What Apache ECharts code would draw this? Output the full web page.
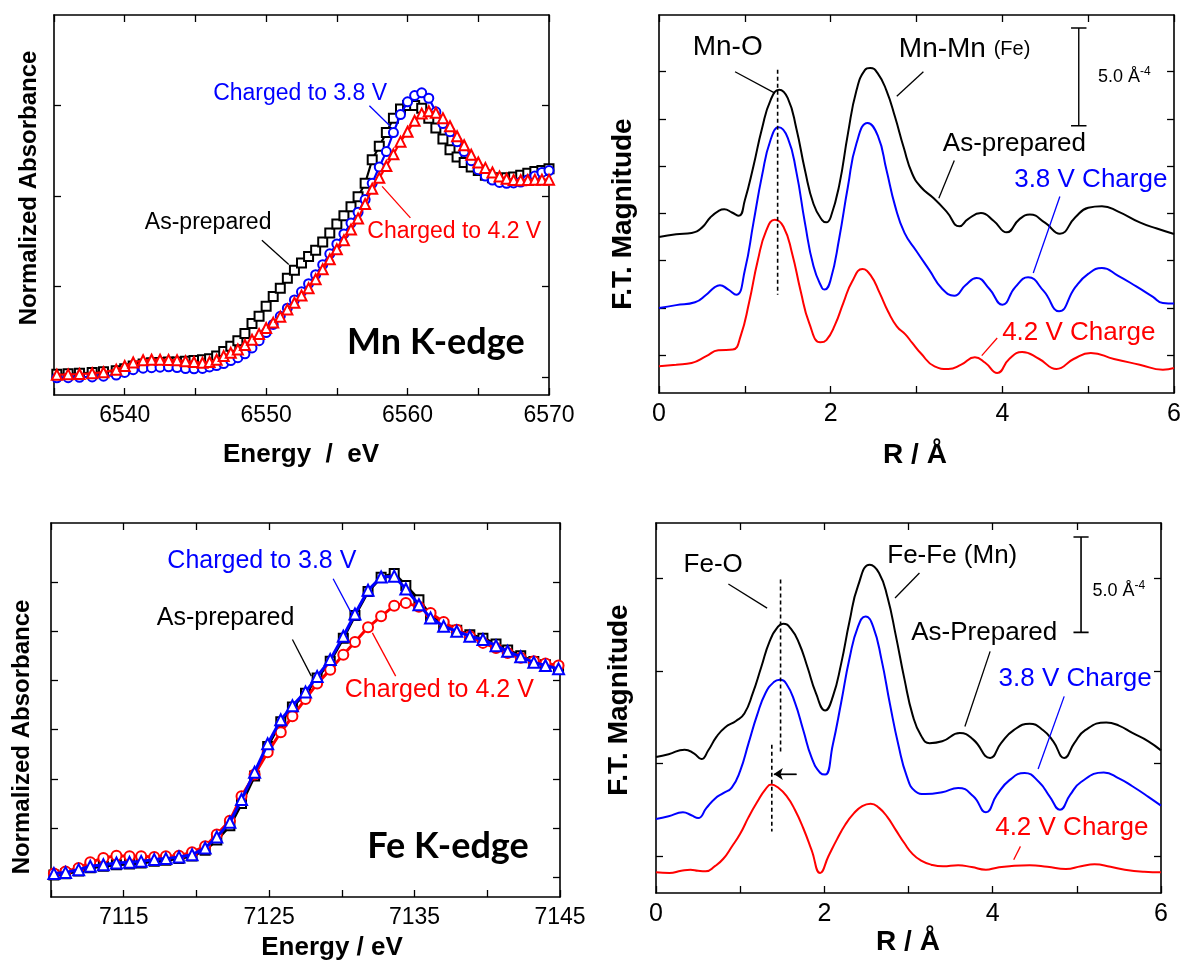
<!DOCTYPE html>
<html><head><meta charset="utf-8">
<script src="https://cdn.jsdelivr.net/npm/echarts@6/dist/echarts.min.js"></script>
<style>html,body{margin:0;padding:0;background:#fff}#c{width:1184px;height:963px}</style>
</head><body><div id="c"></div>
<script>
// ---------------- Mn K-edge XANES ----------------
const mnEnergy = [6535.2,6536.0,6536.8,6537.7,6538.5,6539.4,6540.0,6540.6,6541.3,6541.9,6542.5,6543.1,6543.7,6544.3,6544.9,6545.5,
 6546.0,6546.5,6547.0,6547.5,6548.0,6548.5,6549.0,6549.5,6550.0,6550.5,6551.0,6551.5,6552.0,6552.5,6553.0,6553.5,6554.0,6554.5,
 6555.0,6555.5,6556.0,6556.5,6557.0,6557.5,6558.0,6558.5,6559.0,6559.5,6560.0,6560.5,6561.0,6561.5,6562.0,6562.5,6563.0,6563.5,
 6564.0,6564.5,6565.0,6565.5,6566.0,6566.5,6567.0,6567.5,6568.0,6568.5,6569.0,6569.5,6570.0];
const mnAsPrepared = [0.015,0.018,0.02,0.024,0.028,0.034,0.045,0.06,0.072,0.078,0.08,0.082,0.083,0.086,0.09,0.095,
 0.10,0.115,0.14,0.17,0.20,0.24,0.295,0.335,0.39,0.445,0.49,0.545,0.59,0.63,0.665,0.70,0.745,0.795,
 0.845,0.89,0.94,0.995,1.07,1.20,1.275,1.35,1.43,1.48,1.50,1.50,1.485,1.43,1.375,1.315,1.255,1.215,
 1.185,1.16,1.14,1.115,1.10,1.095,1.10,1.105,1.115,1.125,1.135,1.14,1.15];
const mnCharged38 = [-0.005,-0.004,-0.002,0.0,0.004,0.01,0.025,0.04,0.048,0.051,0.054,0.056,0.052,0.046,0.045,0.047,
 0.055,0.063,0.074,0.09,0.106,0.128,0.16,0.2,0.245,0.29,0.335,0.38,0.425,0.47,0.515,0.565,0.62,0.68,
 0.735,0.79,0.85,0.91,0.98,1.07,1.16,1.245,1.35,1.45,1.52,1.555,1.57,1.54,1.465,1.40,1.355,1.30,
 1.245,1.195,1.145,1.11,1.088,1.075,1.07,1.072,1.077,1.09,1.11,1.13,1.14];
const mnCharged42 = [0.012,0.014,0.016,0.02,0.026,0.04,0.06,0.08,0.092,0.095,0.095,0.094,0.092,0.087,0.082,0.078,
 0.082,0.095,0.115,0.133,0.152,0.176,0.205,0.237,0.27,0.30,0.333,0.373,0.41,0.45,0.49,0.54,0.595,0.65,
 0.705,0.755,0.815,0.875,0.955,1.04,1.10,1.165,1.23,1.30,1.355,1.415,1.455,1.468,1.46,1.43,1.385,1.33,
 1.28,1.228,1.185,1.155,1.13,1.108,1.095,1.088,1.087,1.088,1.09,1.09,1.09];
const mnXLabels = [6540,6550,6560,6570];
const mnXanesYTicks = [0,0.5,1,1.5];

// ---------------- Fe K-edge XANES ----------------
const feEnergy = [7110.2,7111.0,7111.9,7112.7,7113.6,7114.5,7115.4,7116.2,7117.1,7117.9,7118.8,7119.7,7120.6,7121.4,7122.3,
 7123.1,7124.0,7124.9,7125.8,7126.6,7127.5,7128.3,7129.2,7130.1,7130.9,7131.8,7132.7,7133.6,7134.4,7135.3,7136.1,7137.0,
 7137.9,7138.8,7139.7,7140.6,7141.4,7142.3,7143.2,7144.0,7144.9];
const feAsPrepared = [0.012,0.018,0.032,0.048,0.056,0.064,0.068,0.073,0.082,0.087,0.095,0.108,0.138,0.19,0.262,0.375,0.515,
 0.665,0.79,0.865,0.935,1.012,1.098,1.215,1.33,1.452,1.525,1.543,1.482,1.41,1.33,1.282,1.255,1.232,1.215,1.185,1.155,
 1.125,1.097,1.08,1.062];
const feCharged38 = [0.019,0.025,0.039,0.056,0.064,0.073,0.076,0.081,0.09,0.095,0.103,0.115,0.149,0.205,0.28,0.395,0.534,
 0.678,0.80,0.872,0.942,1.02,1.106,1.225,1.338,1.458,1.526,1.53,1.465,1.385,1.318,1.275,1.25,1.225,1.208,1.177,1.148,
 1.12,1.092,1.076,1.059];
const feCharged42 = [0.019,0.03,0.047,0.076,0.098,0.11,0.107,0.107,0.103,0.107,0.11,0.127,0.158,0.217,0.288,0.412,0.522,
 0.635,0.737,0.818,0.906,0.984,1.055,1.131,1.196,1.27,1.326,1.38,1.394,1.374,1.343,1.297,1.258,1.225,1.191,1.165,1.14,
 1.115,1.098,1.086,1.076];
const feXLabels = [7115,7125,7135,7145];
const feXanesYTicks = [0,0.25,0.5,0.75,1,1.25,1.5];

// ---------------- Mn FT-EXAFS ([R, magnitude]) ----------------
const mnFtAsPrepared = [[0,8.25],[0.2,8.4],[0.38,8.47],[0.5,8.75],[0.6,9.3],[0.7,9.65],[0.76,9.72],[0.85,9.55],[0.93,9.38],
 [1.0,10.2],[1.1,12.0],[1.2,14.0],[1.3,15.5],[1.4,16.05],[1.5,15.6],[1.6,14.0],[1.7,11.8],[1.8,10.0],[1.9,9.15],[1.95,9.03],
 [2.0,9.3],[2.1,11.0],[2.2,13.7],[2.3,16.0],[2.4,17.1],[2.46,17.2],[2.55,16.9],[2.65,16.0],[2.75,14.6],[2.85,13.0],[2.95,11.6],
 [3.05,10.9],[3.2,10.3],[3.35,9.6],[3.5,8.82],[3.6,9.2],[3.75,9.52],[3.9,9.1],[4.05,8.5],[4.2,9.2],[4.32,9.44],[4.5,9.0],
 [4.67,8.43],[4.85,9.3],[5.0,9.8],[5.16,9.88],[5.35,9.6],[5.6,9.03],[5.8,8.7],[6.0,8.41]];
const mnFtCharged38 = [[0,4.5],[0.2,4.65],[0.42,4.8],[0.55,5.2],[0.65,5.6],[0.71,5.7],[0.8,5.5],[0.9,5.2],[1.0,6.5],[1.1,9.0],
 [1.2,11.5],[1.3,13.4],[1.395,14.06],[1.5,13.5],[1.6,11.7],[1.7,9.0],[1.8,6.7],[1.9,5.55],[1.93,5.47],[2.0,6.0],[2.1,8.2],
 [2.2,10.9],[2.3,13.2],[2.43,14.29],[2.55,13.6],[2.65,11.8],[2.75,9.9],[2.86,8.47],[3.0,7.5],[3.15,6.5],[3.3,5.5],[3.44,5.15],
 [3.57,5.7],[3.7,6.08],[3.85,5.5],[4.0,4.67],[4.15,5.6],[4.3,6.12],[4.48,5.4],[4.66,4.32],[4.85,5.6],[5.0,6.3],[5.16,6.61],
 [5.35,6.2],[5.56,5.64],[5.75,5.1],[5.87,4.76],[6.0,4.73]];
const mnFtCharged42 = [[0,1.41],[0.2,1.5],[0.38,1.59],[0.55,1.95],[0.69,2.26],[0.86,2.3],[0.95,3.0],[1.05,4.8],[1.15,7.0],
 [1.25,8.6],[1.35,9.17],[1.45,8.8],[1.55,7.4],[1.65,5.4],[1.75,3.7],[1.88,2.68],[1.95,2.8],[2.05,3.6],[2.15,4.8],[2.25,5.9],
 [2.37,6.56],[2.47,6.2],[2.57,5.3],[2.67,4.3],[2.77,3.53],[2.87,3.1],[2.95,2.65],[3.05,2.1],[3.21,1.41],[3.37,1.27],[3.52,1.5],
 [3.68,1.89],[3.8,1.6],[3.94,1.06],[4.08,1.8],[4.23,2.17],[4.43,1.8],[4.63,1.27],[4.83,1.8],[5.03,2.12],[5.3,1.8],[5.6,1.5],
 [5.87,1.23],[6.0,1.32]];

// ---------------- Fe FT-EXAFS ([R, magnitude]) ----------------
const feFtAsPrepared = [[0,7.35],[0.15,7.5],[0.34,7.75],[0.45,7.55],[0.54,7.24],[0.62,7.7],[0.72,8.45],[0.82,8.95],[0.95,9.3],
 [1.05,9.7],[1.15,10.8],[1.25,12.2],[1.35,13.6],[1.45,14.4],[1.51,14.56],[1.6,14.3],[1.7,13.5],[1.8,12.2],[1.9,10.8],[2.01,9.87],
 [2.1,10.6],[2.2,12.4],[2.3,14.7],[2.4,16.6],[2.54,17.75],[2.65,17.3],[2.75,16.0],[2.85,13.9],[2.95,11.6],[3.05,9.6],[3.15,8.5],
 [3.25,8.1],[3.4,8.2],[3.61,8.65],[3.77,8.29],[3.97,7.3],[4.1,8.1],[4.25,8.8],[4.44,9.15],[4.6,8.8],[4.72,8.2],[4.85,7.3],
 [4.97,8.1],[5.1,8.8],[5.35,9.22],[5.5,9.05],[5.66,8.65],[5.85,8.2],[6.0,7.71]];
const feFtCharged38 = [[0,4.0],[0.15,4.15],[0.32,4.36],[0.42,4.2],[0.5,4.05],[0.6,4.6],[0.7,5.1],[0.8,5.4],[0.9,5.7],[1.0,6.6],
 [1.1,8.1],[1.2,9.6],[1.3,10.8],[1.4,11.4],[1.47,11.53],[1.55,11.3],[1.65,10.3],[1.75,8.8],[1.85,7.3],[1.95,6.5],[2.01,6.4],
 [2.1,8.0],[2.2,10.3],[2.3,12.7],[2.4,14.4],[2.49,14.95],[2.58,14.4],[2.68,12.6],[2.78,10.2],[2.88,8.0],[2.98,6.3],[3.08,5.5],
 [3.2,5.35],[3.4,5.45],[3.59,5.68],[3.77,5.23],[3.92,4.36],[4.05,5.3],[4.2,6.1],[4.38,6.49],[4.55,6.0],[4.68,5.2],[4.8,4.5],
 [4.92,5.3],[5.05,6.0],[5.32,6.52],[5.5,6.2],[5.66,5.77],[5.85,5.2],[6.0,4.72]];
const feFtCharged42 = [[0,1.12],[0.16,1.08],[0.3,1.2],[0.41,1.26],[0.5,1.2],[0.59,1.17],[0.7,1.45],[0.8,1.85],[0.9,2.5],[1.0,3.2],
 [1.1,4.1],[1.2,4.9],[1.3,5.6],[1.37,5.86],[1.45,5.7],[1.55,5.25],[1.65,4.5],[1.75,3.5],[1.85,2.3],[1.95,1.08],[2.05,2.0],
 [2.15,2.9],[2.25,3.7],[2.35,4.3],[2.45,4.7],[2.55,4.83],[2.65,4.6],[2.75,4.1],[2.85,3.4],[2.95,2.7],[3.05,2.1],[3.15,1.75],
 [3.27,1.53],[3.41,1.44],[3.59,1.5],[3.75,1.4],[3.92,1.26],[4.05,1.37],[4.2,1.45],[4.44,1.5],[4.65,1.42],[4.87,1.3],[5.05,1.45],
 [5.21,1.55],[5.4,1.42],[5.57,1.26],[5.8,1.15],[6.0,1.12]];
const rLabels = [0,2,4,6];
const mnFtYTicks = [2,4.5,7,9.5,12,14.5,17];
const feFtYTicks = [2,7,12,17];

// ---------------- styling ----------------
const FONT = '"Liberation Sans", Arial, sans-serif';
const BLACK = '#000000', BLUE = '#0000ff', RED = '#ff0000';

const grids = [
  {left:54, top:15, width:495, height:380},
  {left:659, top:15, width:516, height:378},
  {left:51, top:523, width:509, height:374},
  {left:656, top:523, width:505, height:370}
];

function xAxes(g, min, max, interval, labels, fs) {
  const common = {gridIndex:g, type:'value', min:min, max:max, interval:interval, splitLine:{show:false},
    axisLine:{show:true, onZero:false, lineStyle:{color:BLACK, width:1.6}},
    axisTick:{show:true, inside:true, length:7, lineStyle:{color:BLACK, width:1.3}}};
  return [
    Object.assign({}, common, {position:'bottom', axisLabel:{show:true, color:BLACK, fontFamily:FONT, fontSize:fs, margin:9,
      showMinLabel:true, showMaxLabel:true, formatter: v => labels.indexOf(v) >= 0 ? String(v) : ''}}),
    Object.assign({}, common, {position:'top', axisLabel:{show:false}})
  ];
}
function yAxes(g, min, max, ticks) {
  const common = {gridIndex:g, type:'value', min:min, max:max, splitLine:{show:false},
    axisLine:{show:true, onZero:false, lineStyle:{color:BLACK, width:1.6}},
    axisTick:{show:true, inside:true, length:7, customValues:ticks, lineStyle:{color:BLACK, width:1.3}},
    axisLabel:{show:false}};
  return [Object.assign({}, common, {position:'left'}), Object.assign({}, common, {position:'right'})];
}

function xanes(g, xs, ys, color, symbol, size, width, z) {
  return {type:'line', xAxisIndex:2*g, yAxisIndex:2*g, data: xs.map((x,i) => [x, ys[i]]),
    symbol:symbol, symbolSize:size, showSymbol:true, showAllSymbol:true,
    lineStyle:{color:color, width:width}, itemStyle:{color:color, borderColor:color, borderWidth:1.4},
    z:z, silent:true, animation:false};
}
function ft(g, pairs, color) {
  return {type:'line', xAxisIndex:2*g, yAxisIndex:2*g, data:pairs, symbol:'none', smooth:0.5,
    lineStyle:{color:color, width:2}, z:3, silent:true, animation:false};
}
function seg(g, pts, color, width, dashed) {
  return {type:'line', xAxisIndex:2*g, yAxisIndex:2*g, data:pts, symbol:'none',
    lineStyle:{color:color, width:width, type: dashed ? [4,3] : 'solid'}, z:6, silent:true, animation:false};
}

const series = [
  xanes(0, mnEnergy, mnAsPrepared, BLACK, 'emptyRect', 9, 2.2, 3),
  xanes(0, mnEnergy, mnCharged38, BLUE, 'emptyCircle', 9, 2.2, 4),
  xanes(0, mnEnergy, mnCharged42, RED, 'emptyTriangle', 10, 2.2, 5),
  xanes(2, feEnergy, feAsPrepared, BLACK, 'emptyRect', 9, 3, 3),
  xanes(2, feEnergy, feCharged42, RED, 'emptyCircle', 10, 3, 4),
  xanes(2, feEnergy, feCharged38, BLUE, 'emptyTriangle', 11, 3, 5),
  ft(1, mnFtAsPrepared, BLACK), ft(1, mnFtCharged38, BLUE), ft(1, mnFtCharged42, RED),
  ft(3, feFtAsPrepared, BLACK), ft(3, feFtCharged38, BLUE), ft(3, feFtCharged42, RED),
  // pointer lines - Mn XANES
  seg(0, [[6557.3,1.498],[6558.8,1.384]], BLUE, 1.3),
  seg(0, [[6549.7,0.755],[6551.6,0.621]], BLACK, 1.3),
  seg(0, [[6560.2,0.879],[6558.2,1.053]], RED, 1.3),
  // pointer lines - Fe XANES
  seg(2, [[7129.4,1.517],[7130.7,1.336]], BLUE, 1.3),
  seg(2, [[7126.6,1.208],[7127.9,1.022]], BLACK, 1.3),
  seg(2, [[7132.1,1.242],[7133.7,1.022]], RED, 1.3),
  // Mn FT annotations
  seg(1, [[0.886,17.0],[1.35,15.87]], BLACK, 1.3),
  seg(1, [[3.08,17.0],[2.77,15.7]], BLACK, 1.3),
  seg(1, [[1.382,17.1],[1.382,5.2]], BLACK, 1.6, true),
  seg(1, [[4.89,14.14],[4.89,19.31]], BLACK, 1.4),
  seg(1, [[4.80,19.31],[4.98,19.31]], BLACK, 1.4),
  seg(1, [[4.80,14.14],[4.98,14.14]], BLACK, 1.4),
  seg(1, [[3.44,12.3],[3.26,10.3]], BLACK, 1.3),
  seg(1, [[4.67,10.4],[4.36,6.35]], BLUE, 1.3),
  seg(1, [[3.94,2.91],[3.76,1.98]], RED, 1.3),
  // Fe FT annotations
  seg(3, [[0.86,16.7],[1.32,15.4]], BLACK, 1.3),
  seg(3, [[3.13,17.3],[2.84,15.95]], BLACK, 1.3),
  seg(3, [[1.48,16.94],[1.48,7.57]], BLACK, 1.6, true),
  seg(3, [[1.376,8.02],[1.376,3.33]], BLACK, 1.6, true),
  seg(3, [[5.05,14.09],[5.05,19.24]], BLACK, 1.6),
  seg(3, [[4.96,19.24],[5.14,19.24]], BLACK, 1.6),
  seg(3, [[4.96,14.09],[5.14,14.09]], BLACK, 1.6),
  seg(3, [[3.97,13.06],[3.67,9.0]], BLACK, 1.3),
  seg(3, [[4.85,10.63],[4.54,6.7]], BLUE, 1.3),
  seg(3, [[4.33,2.52],[4.25,1.8]], RED, 1.3),
  {type:'line', xAxisIndex:6, yAxisIndex:6, data:[[1.67,6.43],[1.41,6.43]], symbol:'none', lineStyle:{color:BLACK, width:1.3},
   z:6, silent:true, animation:false,
   markLine:{silent:true, animation:false, symbol:['none','arrow'], symbolSize:9, label:{show:false},
     lineStyle:{color:BLACK, width:1.3, type:'solid'}, data:[[{coord:[1.67,6.43]},{coord:[1.40,6.43]}]]}}
];

const option = {
  animation:false,
  backgroundColor:'#ffffff',
  grid: grids,
  xAxis: [].concat(
    xAxes(0, 6535, 6570, 5, mnXLabels, 23),
    xAxes(1, 0, 6, 1, rLabels, 25),
    xAxes(2, 7110, 7145, 5, feXLabels, 23),
    xAxes(3, 0, 6, 1, rLabels, 25)),
  yAxis: [].concat(
    yAxes(0, -0.1, 2.0, mnXanesYTicks),
    yAxes(1, 0, 20, mnFtYTicks),
    yAxes(2, -0.1, 1.8, feXanesYTicks),
    yAxes(3, 0, 20, feFtYTicks)),
  series: series
};

const chart = echarts.init(document.getElementById('c'), null, {renderer:'canvas', width:1184, height:963});
chart.setOption(option);

// ---------------- text annotations (data coords) ----------------
const annotations = [
  {g:0, at:[6552.4,1.568], text:'Charged to 3.8 V', color:BLUE, size:23},
  {g:0, at:[6545.9,0.851], text:'As-prepared', color:BLACK, size:23},
  {g:0, at:[6563.3,0.805], text:'Charged to 4.2 V', color:RED, size:23},
  {g:0, at:[6562.0,0.19], text:'Mn K-edge', color:BLACK, size:36, bold:true, family:'Lato, "Open Sans", sans-serif'},
  {g:2, at:[7124.5,1.607], text:'Charged to 3.8 V', color:BLUE, size:25},
  {g:2, at:[7122.0,1.319], text:'As-prepared', color:BLACK, size:25},
  {g:2, at:[7136.7,0.951], text:'Charged to 4.2 V', color:RED, size:25},
  {g:2, at:[7137.3,0.158], text:'Fe K-edge', color:BLACK, size:36, bold:true, family:'Lato, "Open Sans", sans-serif'},
  {g:1, at:[0.80,18.3], text:'Mn-O', color:BLACK, size:28},
  {g:1, at:[3.56,18.17], text:'{a|Mn-Mn} {b|(Fe)}', color:BLACK, size:28, rich:{a:{fontSize:28, fontFamily:FONT}, b:{fontSize:20, fontFamily:FONT}}},
  {g:1, at:[5.42,16.7], text:'{a|5.0 Å}{b|-4}', color:BLACK, size:18, rich:{a:{fontSize:18, fontFamily:FONT, lineHeight:24}, b:{fontSize:12, fontFamily:FONT, verticalAlign:'top', lineHeight:24}}},
  {g:1, at:[4.14,13.2], text:'As-prepared', color:BLACK, size:26},
  {g:1, at:[5.03,11.3], text:'3.8 V Charge', color:BLUE, size:26},
  {g:1, at:[4.89,3.17], text:'4.2 V Charge', color:RED, size:26},
  {g:3, at:[0.68,17.75], text:'Fe-O', color:BLACK, size:26},
  {g:3, at:[3.52,18.2], text:'Fe-Fe (Mn)', color:BLACK, size:26},
  {g:3, at:[5.5,16.3], text:'{a|5.0 Å}{b|-4}', color:BLACK, size:18, rich:{a:{fontSize:18, fontFamily:FONT, lineHeight:24}, b:{fontSize:12, fontFamily:FONT, verticalAlign:'top', lineHeight:24}}},
  {g:3, at:[3.9,14.05], text:'As-Prepared', color:BLACK, size:26},
  {g:3, at:[4.98,11.6], text:'3.8 V Charge', color:BLUE, size:26},
  {g:3, at:[4.94,3.5], text:'4.2 V Charge', color:RED, size:26}
];
const titles = [
  {x:301, y:455, text:'Energy  /  eV', size:26, rot:0},
  {x:29, y:188, text:'Normalized Absorbance', size:24, rot:Math.PI/2},
  {x:915, y:455, text:'R / Å', size:28, rot:0},
  {x:623, y:214, text:'F.T. Magnitude', size:28, rot:Math.PI/2},
  {x:332, y:948, text:'Energy / eV', size:26, rot:0},
  {x:22, y:737, text:'Normalized Absorbance', size:24, rot:Math.PI/2},
  {x:908, y:942, text:'R / Å', size:28, rot:0},
  {x:619, y:700, text:'F.T. Magnitude', size:28, rot:Math.PI/2}
];

const graphics = [];
annotations.forEach(a => {
  const p = chart.convertToPixel({xAxisIndex:2*a.g, yAxisIndex:2*a.g}, a.at);
  const fam = a.family || FONT;
  const style = {text:a.text, fill:a.color, textAlign:'center', textVerticalAlign:'middle',
    font:(a.bold ? 'bold ' : '') + a.size + 'px ' + fam};
  if (a.rich) style.rich = a.rich;
  graphics.push({type:'text', x:p[0], y:p[1], z:100, silent:true, style:style});
});
titles.forEach(t => {
  graphics.push({type:'text', x:t.x, y:t.y, rotation:t.rot, z:100, silent:true,
    style:{text:t.text, fill:BLACK, textAlign:'center', textVerticalAlign:'middle', font:'bold ' + t.size + 'px ' + FONT}});
});
chart.setOption({graphic:graphics});
</script></body></html>
